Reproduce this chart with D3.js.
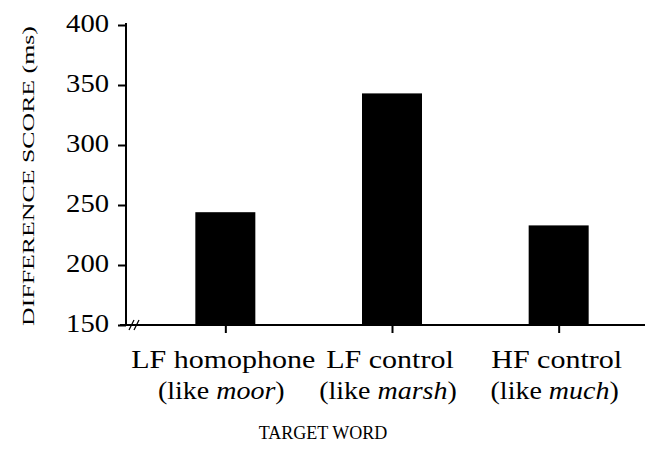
<!DOCTYPE html>
<html>
<head>
<meta charset="utf-8">
<script src="https://cdn.jsdelivr.net/npm/d3@7"></script>
<style>
  body { margin: 0; background: #fff; }
  text { font-family: "Liberation Serif", "Times New Roman", serif; fill: #000; }
</style>
</head>
<body>
<div id="chart"></div>
<script>
var categories = ["LF homophone", "LF control", "HF control"];
var examples = ["moor", "marsh", "much"];
var scores = [244, 343, 233];
var yTicks = [150, 200, 250, 300, 350, 400];

var width = 652, height = 454;
var plotLeft = 126, plotRight = 642, plotTop = 25, plotBottom = 325;

var svg = d3.select("#chart").append("svg")
    .attr("width", width)
    .attr("height", height);

var x = d3.scalePoint()
    .domain(categories)
    .range([142, plotRight])
    .padding(0.5);

var y = d3.scaleLinear()
    .domain([150, 400])
    .range([plotBottom, plotTop]);

// bars
svg.selectAll(".bar")
    .data(categories)
    .enter().append("rect")
    .attr("class", "bar")
    .attr("x", function(d) { return x(d) - 30; })
    .attr("width", 60)
    .attr("y", function(d, i) { return y(scores[i]); })
    .attr("height", function(d, i) { return plotBottom - y(scores[i]); })
    .attr("fill", "#000");

// y axis
var yAxis = svg.append("g")
    .attr("transform", "translate(" + plotLeft + ",0)")
    .call(d3.axisLeft(y).tickValues(yTicks).tickSize(8).tickSizeOuter(0));
yAxis.select(".domain").attr("d", "M0," + (plotTop - 2) + "V" + plotBottom).attr("stroke-width", 2);
yAxis.selectAll(".tick line").attr("stroke-width", 2);
yAxis.selectAll(".tick text")
    .attr("x", null)
    .attr("dy", null)
    .attr("transform", "translate(-17,6) scale(1.1,1)")
    .style("font-size", "26px")
    .style("font-family", "Liberation Serif, serif");

// x axis
var xAxis = svg.append("g")
    .attr("transform", "translate(0," + plotBottom + ")")
    .call(d3.axisBottom(x).tickSize(8).tickFormat("").tickSizeOuter(0));
xAxis.select(".domain").attr("d", "M" + (plotLeft - 6) + ",0H" + (plotRight + 3));
xAxis.select(".domain").attr("stroke-width", 2);
xAxis.selectAll(".tick line").attr("stroke-width", 2);

// axis break marks
svg.append("g")
    .selectAll("line")
    .data([0, 5])
    .enter().append("line")
    .attr("x1", function(d) { return 129 + d; })
    .attr("x2", function(d) { return 134 + d; })
    .attr("y1", plotBottom + 5)
    .attr("y2", plotBottom - 5)
    .attr("stroke", "#000")
    .attr("stroke-width", 1.3);

// category labels
var labels = svg.append("g").selectAll("text")
    .data(categories)
    .enter();

labels.append("text")
    .attr("transform", function(d) { return "translate(" + (x(d) - 2) + ",368) scale(1.2,1)"; })
    .attr("text-anchor", "middle")
    .style("font-size", "25px")
    .text(function(d) { return d; });

var line2 = labels.append("text")
    .attr("transform", function(d) { return "translate(" + (x(d) - 4) + ",399) scale(1.12,1)"; })
    .attr("text-anchor", "middle")
    .style("font-size", "25px");
line2.append("tspan").text("(like ");
line2.append("tspan").style("font-style", "italic").text(function(d, i) { return examples[i]; });
line2.append("tspan").text(")");

// axis titles
svg.append("text")
    .attr("transform", "translate(323,439) scale(0.95,1)")
    .attr("text-anchor", "middle")
    .style("font-size", "19px")
    .text("TARGET WORD");

svg.append("text")
    .attr("transform", "translate(34,176) rotate(-90) scale(1.52,1)")
    .attr("text-anchor", "middle")
    .style("font-size", "17px")
    .text("DIFFERENCE SCORE (ms)");
</script>
</body>
</html>
